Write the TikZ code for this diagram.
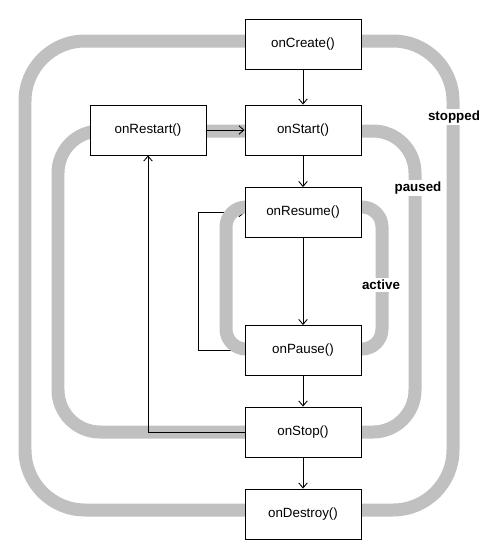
\documentclass[tikz,border=0pt]{standalone}
\usepackage{fontspec}
\setmainfont{Liberation Sans}
\usepackage{tikz}
\usetikzlibrary{arrows.meta}
\usepackage{xcolor}

\definecolor{bandgray}{RGB}{192,192,192}
\pgfdeclarelayer{lowband}
\pgfdeclarelayer{loopback}
\pgfdeclarelayer{highband}
\pgfsetlayers{lowband,loopback,highband,main}
\tikzset{
  cb/.style={draw=black,line width=0.5pt,fill=white,minimum width=2.32cm,minimum height=1cm,
    inner sep=0pt,font=\fontsize{7.6}{9}\selectfont},
  band/.style={draw=bandgray,line width=0.26cm},
  statelbl/.style={fill=white,inner sep=1pt,font=\fontsize{7.6}{9}\selectfont\bfseries},
  arr/.style={-{Straight Barb[length=0.1cm,width=0.17cm]},line width=0.5pt}
}

\begin{document}
\begin{tikzpicture}[x=0.02cm,y=-0.02cm]
\useasboundingbox (0,0) rectangle (500,558);
\node[cb] (create) at (303,44) {onCreate()};
\node[cb] (start) at (303,130) {onStart()};
\node[cb] (restart) at (148,130) {onRestart()};
\node[cb] (resume) at (303,212.5) {onResume()};
\node[cb] (pause) at (303,350.5) {onPause()};
\node[cb] (stop) at (303,432) {onStop()};
\node[cb] (destroy) at (303,514) {onDestroy()};

% lifetime bands
\begin{pgfonlayer}{lowband}
\draw[band,rounded corners=1.2cm] (25,41) rectangle (453,510);
\draw[band,rounded corners=0.84cm] (58,131) rectangle (415,432);
\end{pgfonlayer}
\begin{pgfonlayer}{highband}
\draw[band,rounded corners=0.4cm] (226,207) rectangle (382,349);
\end{pgfonlayer}
\node[statelbl] (stopped) at (454,117) {stopped};
\node[statelbl] (paused) at (418,188) {paused};
\node[statelbl] (active) at (381,285) {active};

% calls
\draw[arr] (create) -- (start);
\draw[arr] (start) -- (resume);
\draw[arr] (resume) -- (pause);
\draw[arr] (pause) -- (stop);
\draw[arr] (stop) -- (destroy);
\draw[arr] (restart) -- (start);
\draw[arr] (stop.west) -| (restart.south);
\begin{pgfonlayer}{loopback}
\draw[arr] (pause.west) -- ++(-46,0) |- (resume.west);
\end{pgfonlayer}
\end{tikzpicture}
\end{document}
